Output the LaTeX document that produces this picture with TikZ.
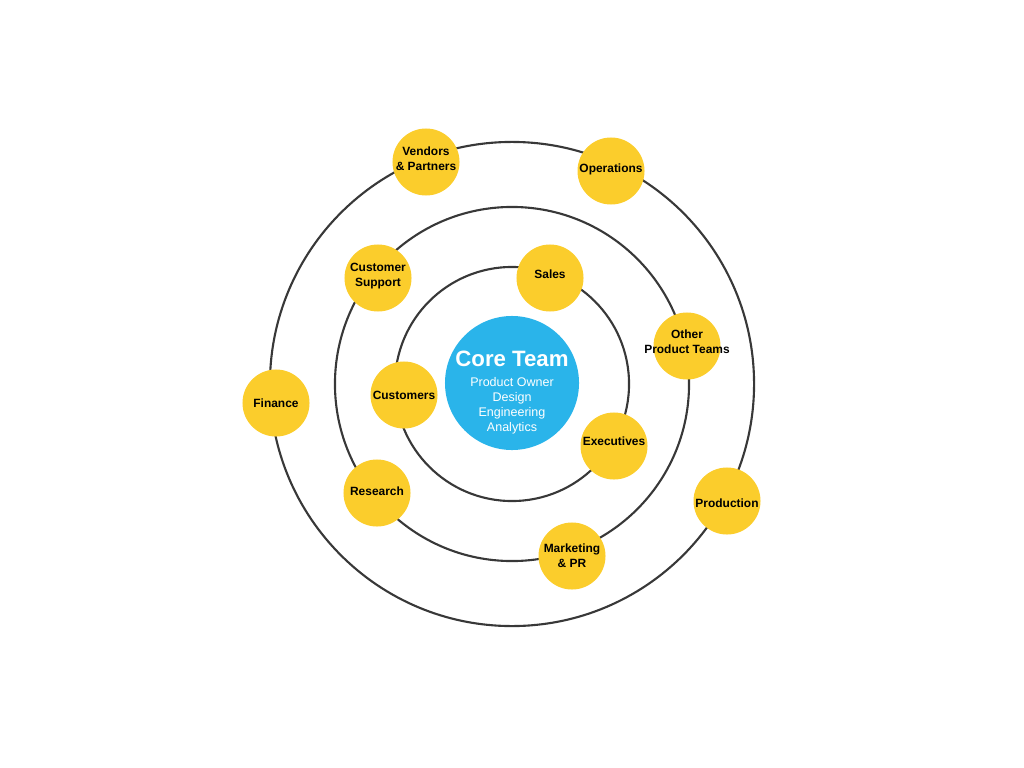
\documentclass[tikz,border=0pt]{standalone}
\usepackage{fontspec}
\setmainfont{Liberation Sans}
\usetikzlibrary{positioning}

\definecolor{orbitgray}{HTML}{383838}
\definecolor{teamyellow}{HTML}{FBCD2C}
\definecolor{coreblue}{HTML}{2AB4EA}

\begin{document}
\begin{tikzpicture}[
    x=0.025cm, y=-0.025cm,
    orbit/.style={draw=orbitgray, line width=1.5pt},
    group/.style={circle, fill=teamyellow, minimum size=1.675cm, inner sep=0pt},
    grouptext/.style={align=center, inner sep=0pt,
        font=\fontsize{8.5}{10.7}\selectfont\bfseries, text=black},
    core/.style={circle, fill=coreblue, minimum size=3.35cm, inner sep=0pt},
    coretitle/.style={font=\fontsize{15.8}{18}\selectfont\bfseries, text=white},
    coresub/.style={align=center, font=\fontsize{8.9}{10.7}\selectfont, text=white}
]
    % canvas
    \useasboundingbox (0,0) rectangle (1024,768);

    % Orbits
    \coordinate (hub) at (512,384);
    \draw[orbit] (hub) circle[radius=2.925cm];
    \draw[orbit] (hub) circle[radius=4.425cm];
    \draw[orbit] (hub) circle[radius=6.05cm];

    % Core team
    \node[core] (core) at (512,383) {};
    \node[coretitle] (coreTitle) at (512,359) {Core Team};
    \node[coresub] (coreRoles) at (512,406) {Product Owner\\Design\\Engineering\\Analytics};

    % Inner orbit
    \node[group, label={[grouptext, yshift=2.8pt]center:Sales}] (sales) at (550,278) {};
    \node[group, label={[grouptext]center:Customers}] (customers) at (404,395) {};
    \node[group, label={[grouptext, yshift=3.5pt]center:Executives}] (executives) at (614,446) {};

    % Middle orbit
    \node[group, label={[grouptext, yshift=1.4pt]center:Customer\\Support}] (support) at (378,278) {};
    \node[group, label={[grouptext, yshift=2.8pt]center:Other\\Product Teams}] (otherTeams) at (687,346) {};
    \node[group, label={[grouptext, yshift=1.4pt]center:Research}] (research) at (377,493) {};
    \node[group, label={[grouptext]center:Marketing\\\& PR}] (marketing) at (572,556) {};

    % Outer orbit
    \node[group, label={[grouptext, yshift=2pt]center:Vendors\\\& Partners}] (vendors) at (426,162) {};
    \node[group, label={[grouptext, yshift=1.4pt]center:Operations}] (operations) at (611,171) {};
    \node[group, label={[grouptext]center:Finance}] (finance) at (276,403) {};
    \node[group, label={[grouptext, yshift=-1.4pt]center:Production}] (production) at (727,501) {};
\end{tikzpicture}
\end{document}
